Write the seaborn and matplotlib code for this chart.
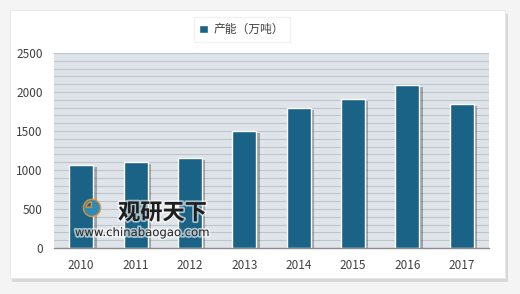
import matplotlib
matplotlib.use("Agg")
import matplotlib.pyplot as plt
import matplotlib.patheffects as pe
from matplotlib.patches import Rectangle, Patch
from matplotlib.ticker import MultipleLocator
import seaborn as sns
import pandas as pd

years = ["2010", "2011", "2012", "2013", "2014", "2015", "2016", "2017"]
capacity = [1060, 1100, 1150, 1500, 1790, 1910, 2090, 1850]
series_name = "产能（万吨）"
y_ticks = [0, 500, 1000, 1500, 2000, 2500]
bar_color = "#1B6386"

sns.set_theme(style="white")
plt.rcParams['font.family'] = ['Noto Sans CJK SC', 'DejaVu Sans']

df = pd.DataFrame({"year": years, "value": capacity, "series": series_name})

fig = plt.figure(figsize=(5.2, 2.94), dpi=100)
fig.patch.set_facecolor("#F4F4F4")

bg = fig.add_axes([0, 0, 1, 1], zorder=-5)
bg.set_xlim(0, 1); bg.set_ylim(0, 1); bg.axis("off")
bg.add_patch(Rectangle((0.024, 0.040), 0.952, 0.912, facecolor="#D8D8D8", edgecolor="none"))
bg.add_patch(Rectangle((0.019, 0.054), 0.952, 0.912, facecolor="white", edgecolor="#E6E6E6", lw=0.6))

ax = fig.add_axes([0.1038, 0.1565, 0.8366, 0.6632], zorder=1)
ax.set_facecolor("#DEE4EA")

sns.barplot(data=df, x="year", y="value", color=bar_color, saturation=1,
            width=0.44, edgecolor="white", linewidth=1.0, ax=ax)
for p in ax.patches:
    p.set_path_effects([pe.SimplePatchShadow(offset=(2.5, -1.5), shadow_rgbFace="#555555", alpha=0.45),
                        pe.Normal()])

ax.set_ylim(0, 2500)
ax.set_yticks(y_ticks)
ax.yaxis.set_minor_locator(MultipleLocator(100))
ax.grid(True, which="both", axis="y", color="#BFC4C9", lw=0.8)
ax.set_axisbelow(True)
ax.set_xlabel("")
ax.set_ylabel("")
for s in ["top", "right", "left"]:
    ax.spines[s].set_visible(False)
ax.spines["bottom"].set_color("#8C8C8C")
ax.spines["bottom"].set_linewidth(1.0)
ax.tick_params(axis="both", which="both", length=0, labelsize=8.5, colors="#404040")
ax.tick_params(axis="y", pad=8)
ax.tick_params(axis="x", pad=8)

leg = fig.legend([Patch(facecolor=bar_color)], [series_name], loc="center",
                 bbox_to_anchor=(0.465, 0.90), frameon=True,
                 fontsize=8.5, handlelength=0.7, handleheight=0.7, handletextpad=0.5,
                 borderpad=0.5, fancybox=False, edgecolor="#EEEEEE", labelcolor="#404040")

# watermark
halo = [pe.withStroke(linewidth=2.5, foreground="white", alpha=0.6)]
fig.text(0.227, 0.276, "观研天下", fontsize=16, fontweight="bold", color="#1E1E1E",
         ha="left", va="center", zorder=5, path_effects=halo)
fig.text(0.144, 0.209, "www.chinabaogao.com", fontsize=8.4, color="#2A2A2A",
         ha="left", va="center", family=["DejaVu Sans"], zorder=5, path_effects=halo)
fig.text(0.177, 0.295, "◕", fontsize=15, color="#2A8BB5", alpha=0.9, ha="center", va="center",
         family=["DejaVu Sans"], zorder=5,
         path_effects=[pe.withStroke(linewidth=2, foreground="#F0922A", alpha=0.9)])

fig.savefig("out.png", dpi=100, facecolor=fig.get_facecolor())
